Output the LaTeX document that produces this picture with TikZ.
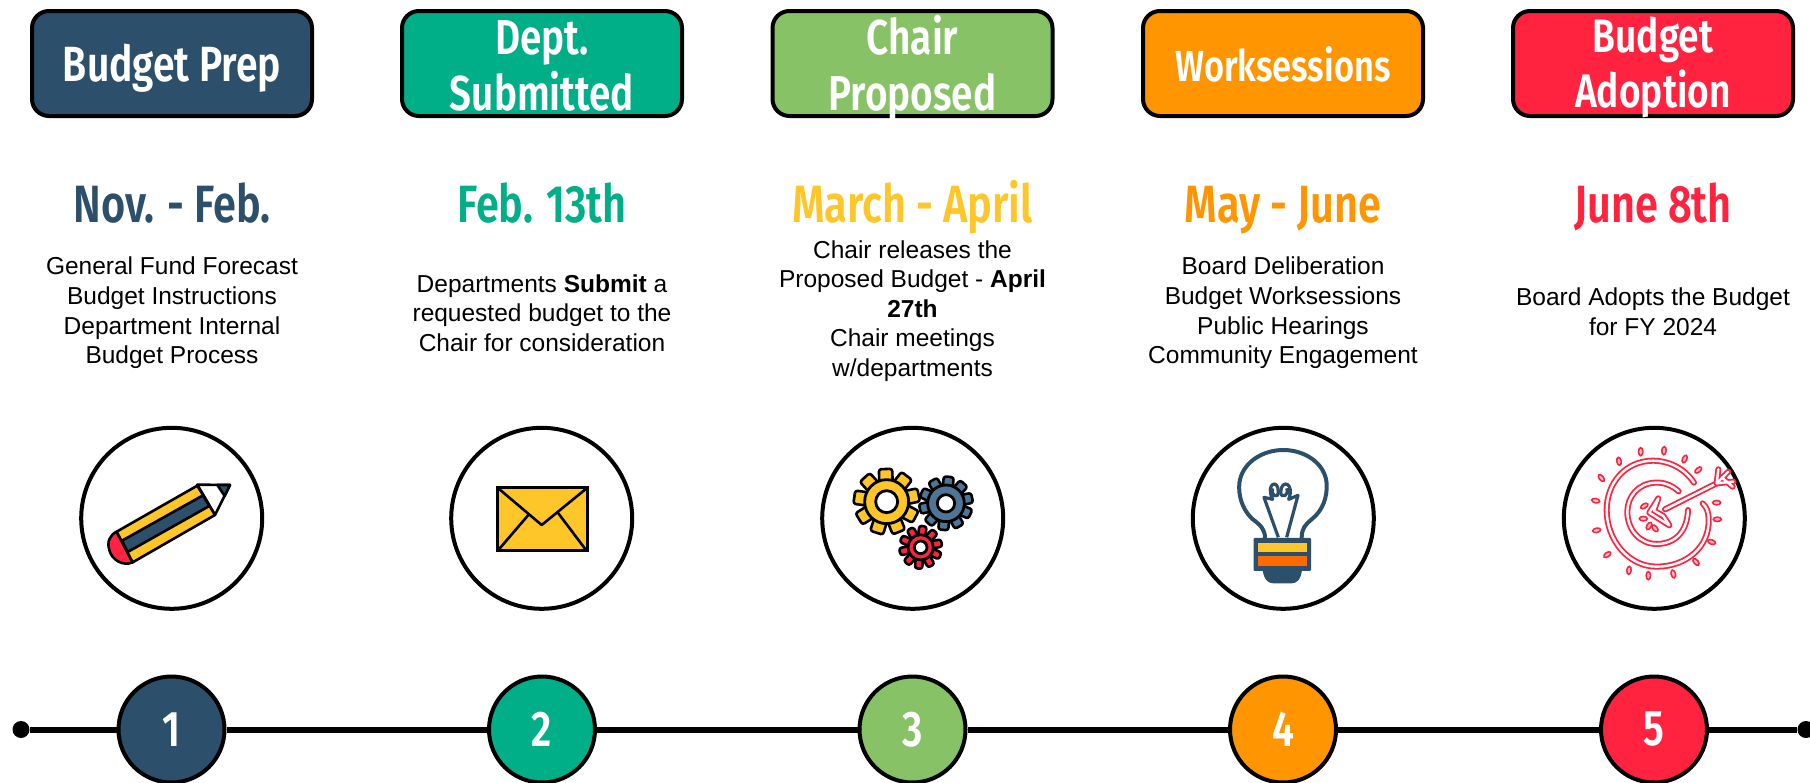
\documentclass[tikz,border=0pt]{standalone}
\usepackage{fontspec}
\setmainfont{Liberation Sans}
\newfontfamily\cond[FakeStretch=0.79]{Fira Sans SemiBold}
\definecolor{cnavy}{HTML}{2C4F6B}
\definecolor{cgreen}{HTML}{00AE87}
\definecolor{clime}{HTML}{88C267}
\definecolor{corange}{HTML}{FF9500}
\definecolor{cred}{HTML}{FF2340}
\definecolor{cyellow}{HTML}{FFC629}
\definecolor{cbar}{HTML}{FF6A00}
\definecolor{cgear}{HTML}{4F7596}
\tikzset{
  headbox/.style={draw=black,line width=4pt,rounded corners=17pt,minimum width=280pt,minimum height=105pt,inner sep=0pt},
  headlabel/.style={inner sep=0pt,text=white,align=center,font=\cond\fontsize{#1}{55.5}\selectfont},
  datelabel/.style={inner sep=0pt,anchor=base,font=\cond\fontsize{52.5}{60}\selectfont},
  bodytext/.style={inner sep=0pt,align=center,text=black,font=\fontsize{24.5}{29.6}\selectfont},
  iconring/.style={circle,draw=black,line width=4pt,minimum size=181pt,inner sep=0pt,fill=white},
  stepdisc/.style={circle,draw=black,line width=4pt,minimum size=106pt,inner sep=0pt,text=white,font=\cond\fontsize{50}{50}\selectfont},
  enddot/.style={circle,fill=black,minimum size=17pt,inner sep=0pt},
  tline/.style={line width=6pt,black},
  zoomed/.style={x=0.3333pt,y=-0.3333pt},
  ink/.style={draw=black,line width=2.6pt,line join=round,line cap=round}
}
\newcommand{\gearicon}[8]{% x y ringr holer toothr teeth color toothhalfwidth
  \begin{scope}[shift={(#1,#2)}]
    \foreach \k in {1,...,#6}{
      \begin{scope}[rotate=\k*360/#6+12]
        \draw[ink,fill=#7,rounded corners=2.5pt] (#3*0.8,-#8) rectangle (#5,#8);
      \end{scope}
    }
    \draw[ink,line width=2.8pt,fill=#7] (0,0) circle[radius=#3];
    \draw[ink,line width=2.8pt,fill=white] (0,0) circle[radius=#4];
  \end{scope}
}
\begin{document}
\begin{tikzpicture}[x=1pt,y=-1pt]
\useasboundingbox (0,0) rectangle (1810,782);
% header boxes
\node[headbox,fill=cnavy] (h1) at (172,63.5) {};
\node[headbox,fill=cgreen] (h2) at (542,63.5) {};
\node[headbox,fill=clime] (h3) at (912.5,63.5) {};
\node[headbox,fill=corange] (h4) at (1283,63.5) {};
\node[headbox,fill=cred] (h5) at (1653,63.5) {};
\node[headlabel=49.5] (t1) at (172,68) {Budget Prep};
\node[headlabel=49] (t2) at (542,66) {Dept.\\Submitted};
\node[headlabel=49] (t3) at (912.5,68) {Chair\\Proposed};
\node[headlabel=43.5] (t4) at (1283,64) {Worksessions};
\node[headlabel=47] (t5) at (1653,67.5) {Budget\\Adoption};
% dates
\node[datelabel,text=cnavy] (d1) at (172,222) {Nov. - Feb.};
\node[datelabel,text=cgreen] (d2) at (542,222) {Feb. 13th};
\node[datelabel,text=cyellow] (d3) at (912.5,222) {March - April};
\node[datelabel,text=corange] (d4) at (1283,222) {May - June};
\node[datelabel,text=cred] (d5) at (1653,222) {June 8th};
% body
\node[bodytext] (b1) at (172,313) {General Fund Forecast\\Budget Instructions\\Department Internal\\Budget Process};
\node[bodytext] (b2) at (542,313) {Departments \textbf{Submit} a\\requested budget to the\\Chair for consideration};
\node[bodytext] (b3) at (912.5,311) {Chair releases the\\Proposed Budget - \textbf{April}\\\textbf{27th}\\Chair meetings\\w/departments};
\node[bodytext] (b4) at (1283,313) {Board Deliberation\\Budget Worksessions\\Public Hearings\\Community Engagement};
\node[bodytext] (b5) at (1653,312) {Board Adopts the Budget\\for FY 2024};
% icon rings
\node[iconring] (r1) at (171.7,518.3) {};
\node[iconring] (r2) at (541.7,518.3) {};
\node[iconring] (r3) at (912.7,518.3) {};
\node[iconring] (r4) at (1283.3,518.3) {};
\node[iconring] (r5) at (1654.3,518.3) {};
% pencil
\begin{scope}[shift={(60,420)},zoomed]
  \draw[ink,fill=cred] (170,335) .. controls (150,345) and (140,365) .. (148,390) .. controls (155,420) and (190,440) .. (218,427) -- cycle;
  \draw[ink,fill=white] (412,194) -- (510,195) -- (465,285) -- cycle;
  \draw[ink,fill=cnavy] (472,195) -- (510,195) -- (494,228) -- cycle;
  \draw[ink,fill=cyellow] (170,335) -- (412,197) -- (465,285) -- (218,427) -- cycle;
  \draw[ink,fill=cnavy] (186,362) -- (429,226) -- (448,258) -- (203,396) -- cycle;
\end{scope}
% envelope
\begin{scope}[shift={(430,420)},zoomed]
  \draw[ink,line width=3pt,fill=cyellow,line join=miter] (202,203) rectangle (472,392);
  \draw[ink] (205,205) -- (335,315) -- (470,205);
  \draw[ink] (205,390) -- (295,285);
  \draw[ink] (385,280) -- (468,390);
\end{scope}
% gears
\begin{scope}[shift={(800,420)},zoomed]
  \gearicon{260}{245}{66}{33}{98}{9}{cyellow}{20}
  \gearicon{438}{250}{55}{26}{80}{10}{cgear}{15}
  \gearicon{362}{382}{38}{19}{64}{10}{cred}{11}
\end{scope}
% bulb
\begin{scope}[shift={(1170,420)},zoomed]
  \draw[cnavy,line width=4pt,line join=round] (285,355) .. controls (285,325) and (270,315) .. (245,295) .. controls (215,265) and (205,225) .. (208,190) .. controls (215,130) and (275,90) .. (340,90) .. controls (405,90) and (465,130) .. (470,190) .. controls (472,230) and (460,270) .. (425,298) .. controls (405,315) and (395,325) .. (395,355);
  \draw[cnavy,line width=3.2pt,line join=round] (325,352) -- (282,232) -- (308,238) .. controls (285,190) and (325,175) .. (325,215) .. controls (325,240) and (300,225) .. (308,205);
  \draw[cnavy,line width=3.2pt,line join=round] (350,352) -- (384,226) -- (356,238) .. controls (375,190) and (335,175) .. (332,215) .. controls (332,240) and (360,225) .. (350,205);
  \fill[cnavy,rounded corners=1pt] (251,354) rectangle (423,453);
  \fill[cnavy] (278,450) .. controls (282,480) and (295,490) .. (310,490) -- (365,490) .. controls (380,490) and (392,480) .. (396,450) -- cycle;
  \fill[cyellow] (265,368) rectangle (411,395);
  \fill[cbar] (265,408) rectangle (411,438);
\end{scope}
% target
\begin{scope}[shift={(1550,420)},zoomed]
  \tikzset{dbl/.style={double=white,draw=cred,line width=1.8pt,double distance=2.4pt,line cap=round,line join=round}}
  \draw[dbl] (432,188) .. controls (400,140) and (350,122) .. (310,122) .. controls (225,122) and (170,190) .. (170,270) .. controls (170,360) and (235,440) .. (320,440) .. controls (410,440) and (478,380) .. (476,300) .. controls (476,275) and (470,262) .. (458,250);
  \draw[dbl] (386,214) .. controls (365,195) and (340,186) .. (315,188) .. controls (265,190) and (232,230) .. (232,275) .. controls (232,330) and (270,372) .. (320,372) .. controls (375,372) and (412,335) .. (414,270);
  \draw[dbl] (500,190) -- (345,268);
  \draw[dbl,fill=white] (325,235) -- (298,278) -- (358,316) -- (340,288) -- (312,272) -- cycle;
  \draw[dbl] (500,190) -- (505,148) (500,190) -- (535,155) (500,190) -- (550,185) (515,172) -- (548,200);
  \foreach \px/\py/\ang in {272/95/90,342/92/85,404/117/65,445/150/40,207/124/100,154/174/130,137/242/170,140/331/10,172/404/35,237/451/85,295/467/90,370/462/105,438/426/130,485/366/160,502/298/0,500/248/0,283/258/30,280/296/0,297/318/60,315/325/130}{
    \draw[cred,line width=1.6pt,fill=cred!25,rotate around={\ang:(\px,\py)}] (\px,\py) ellipse[x radius=12,y radius=6.5];
  }
\end{scope}
% timeline
\node[enddot] (e0) at (21,729.5) {};
\node[enddot] (e1) at (1806,729.5) {};
\node[stepdisc,fill=cnavy] (s1) at (171.5,729.5) {1};
\node[stepdisc,fill=cgreen] (s2) at (542,729.5) {2};
\node[stepdisc,fill=clime] (s3) at (912.5,729.5) {3};
\node[stepdisc,fill=corange] (s4) at (1283,729.5) {4};
\node[stepdisc,fill=cred] (s5) at (1654,729.5) {5};
\draw[tline] (e0) -- (s1);
\draw[tline] (s1) -- (s2);
\draw[tline] (s2) -- (s3);
\draw[tline] (s3) -- (s4);
\draw[tline] (s4) -- (s5);
\draw[tline] (s5) -- (e1);
\end{tikzpicture}
\end{document}
